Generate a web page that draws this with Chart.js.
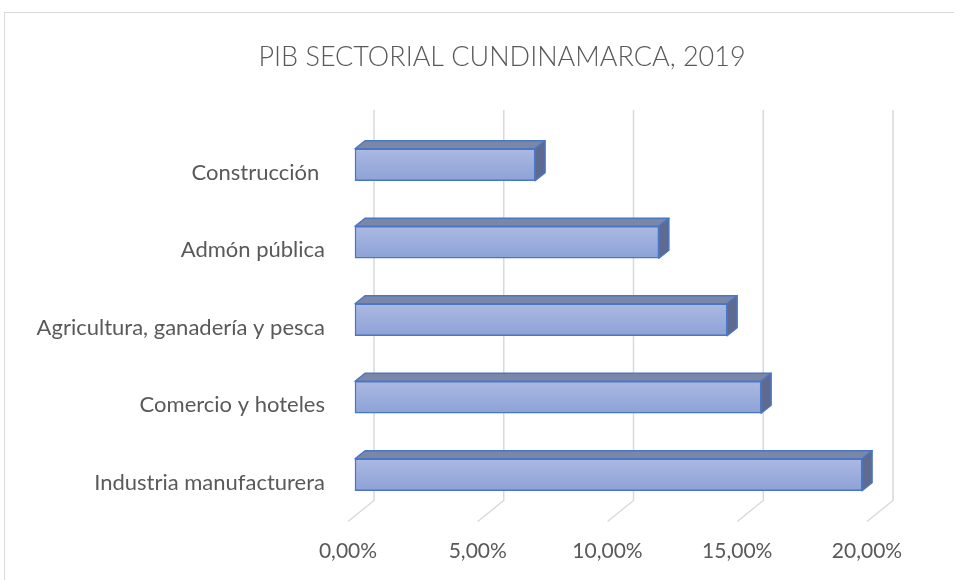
<!DOCTYPE html>
<html>
<head>
<meta charset="utf-8">
<script src="https://cdn.jsdelivr.net/npm/chart.js"></script>
<style>
body { margin: 0; background: #fff; overflow: hidden; }
#marco { position: absolute; left: 4px; top: 12px; width: 1200px; height: 1000px; border-left: 1px solid #d9d9d9; border-top: 1px solid #d9d9d9; }
#caja { position: absolute; left: 0; top: 0; width: 954px; height: 580px; }
</style>
</head>
<body>
<div id="marco"></div>
<div id="caja"><canvas id="pib" width="954" height="580"></canvas></div>
<script>
/* Data */
var titulo = 'PIB SECTORIAL CUNDINAMARCA, 2019';
var sectores = ['Construcción ', 'Admón pública', 'Agricultura, ganadería y pesca', 'Comercio y hoteles', 'Industria manufacturera'];
var participacion = [6.94, 11.71, 14.34, 15.65, 19.54];
var ticksX = [0, 5, 10, 15, 20];

/* 3D look */
var fondoX = 26, fondoY = 21;   // floor depth
var frenteX = 7, frenteY = 8;   // where the bar fronts sit
var barraX = 10, barraY = 8;    // bar depth

var texto = '#595959';
var fuente = 'Lato, "Open Sans", sans-serif';

function formato(v) {
	return v.toFixed(2).replace('.', ',') + '%';
}

function poligono(ctx, pts) {
	ctx.beginPath();
	ctx.moveTo(pts[0][0], pts[0][1]);
	for (var i = 1; i < pts.length; i++) {
		ctx.lineTo(pts[i][0], pts[i][1]);
	}
	ctx.closePath();
	ctx.fill();
	ctx.stroke();
}

/* title, centred on the chart box (not on the canvas) */
var tituloCaja = {
	id: 'tituloCaja',
	afterDraw: function(chart) {
		var ctx = chart.ctx;
		ctx.save();
		ctx.fillStyle = texto;
		ctx.font = '300 27px ' + fuente;
		ctx.textAlign = 'center';
		ctx.textBaseline = 'middle';
		ctx.fillText(titulo, 502, 57);
		ctx.restore();
	}
};

/* back wall, floor lines and the bar sides */
var efecto3d = {
	id: 'efecto3d',
	beforeDatasetsDraw: function(chart) {
		var ctx = chart.ctx;
		var area = chart.chartArea;
		var escala = chart.scales.x;
		ctx.save();
		ctx.strokeStyle = '#d9d9d9';
		ctx.lineWidth = 1.5;
		ticksX.forEach(function(v) {
			var px = escala.getPixelForValue(v);
			ctx.beginPath();
			ctx.moveTo(px + fondoX, area.top - fondoY - 3);
			ctx.lineTo(px + fondoX, area.bottom - fondoY);
			ctx.lineTo(px, area.bottom);
			ctx.stroke();
		});
		ctx.restore();

		ctx.save();
		ctx.translate(frenteX, -frenteY);
	},
	afterDatasetsDraw: function(chart) {
		var ctx = chart.ctx;
		var meta = chart.getDatasetMeta(0);
		ctx.strokeStyle = '#4a76c6';
		ctx.lineWidth = 1.5;
		ctx.lineJoin = 'round';
		meta.data.forEach(function(bar) {
			var p = bar.getProps(['x', 'y', 'base', 'height'], true);
			var izq = p.base, der = p.x;
			var arriba = p.y - p.height / 2, abajo = p.y + p.height / 2;
			ctx.fillStyle = '#7b87a6';
			poligono(ctx, [[izq, arriba], [izq + barraX, arriba - barraY], [der + barraX, arriba - barraY], [der, arriba]]);
			ctx.fillStyle = '#5e6a8f';
			poligono(ctx, [[der, arriba], [der + barraX, arriba - barraY], [der + barraX, abajo - barraY], [der, abajo]]);
		});
		ctx.restore();
	}
};

var ctx = document.getElementById('pib');

new Chart(ctx, {
	type: 'bar',
	data: {
		labels: sectores,
		datasets: [{
			label: titulo,
			data: participacion,
			backgroundColor: function(c) {
				var y = c.chart.scales.y;
				var centro = (y && c.dataIndex !== undefined) ? y.getPixelForValue(c.dataIndex) : NaN;
				if (!isFinite(centro)) {
					return '#9badde';
				}
				var g = c.chart.ctx.createLinearGradient(0, centro - 16, 0, centro + 16);
				g.addColorStop(0, '#abb9e2');
				g.addColorStop(1, '#8da2d7');
				return g;
			},
			borderColor: '#4a76c6',
			borderWidth: 1.5,
			borderSkipped: false,
			barThickness: 32,
			clip: false
		}]
	},
	options: {
		indexAxis: 'y',
		responsive: false,
		animation: false,
		layout: {
			padding: { left: 0, right: 87, top: 134, bottom: 8.5 }
		},
		plugins: {
			legend: { display: false },
			tooltip: { enabled: false },
			title: { display: false }
		},
		scales: {
			x: {
				type: 'linear',
				min: 0,
				max: 20,
				grid: { display: false, drawTicks: false },
				border: { display: false },
				ticks: {
					stepSize: 5,
					padding: 17,
					color: texto,
					font: { family: fuente, size: 21 },
					callback: function(v) { return formato(v); }
				},
				afterFit: function(s) { s.height = 50; }
			},
			y: {
				grid: { display: false, drawTicks: false },
				border: { display: false },
				ticks: {
					padding: 23,
					color: texto,
					font: { family: fuente, size: 22 }
				},
				afterFit: function(s) { s.width = 348; }
			}
		}
	},
	plugins: [efecto3d, tituloCaja]
});
</script>
</body>
</html>
